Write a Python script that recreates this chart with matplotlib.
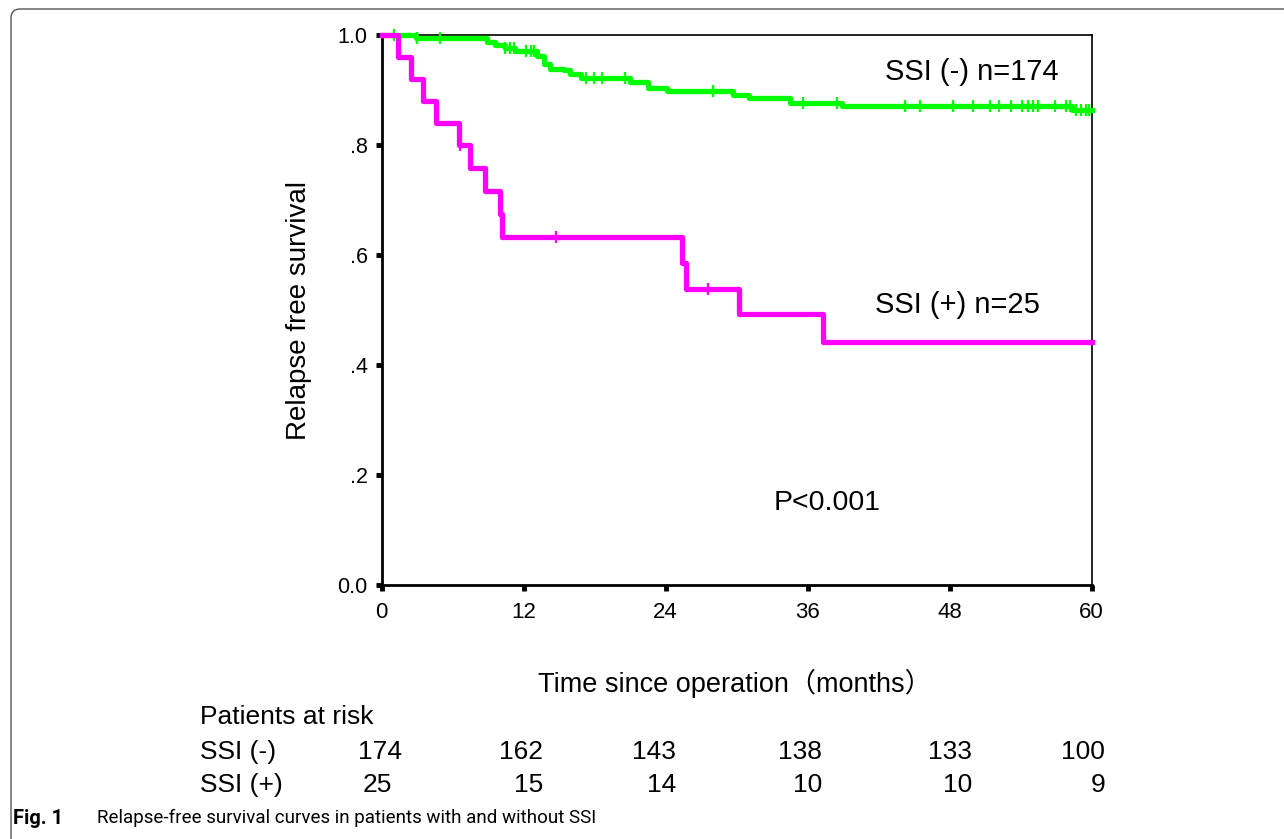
import numpy as np
import matplotlib
matplotlib.use("Agg")
import matplotlib.pyplot as plt
from matplotlib.patches import FancyBboxPatch
from matplotlib.transforms import IdentityTransform

# ---- data ----
# SSI (-) group, Kaplan-Meier steps (months, survival)
t_neg = [0, 2.9, 8.9, 9.6, 10.4, 11.3, 13.1, 13.7, 14.2, 15.4, 15.9, 16.8,
         21.0, 22.5, 24.1, 29.7, 31.0, 34.5, 38.9, 58.3, 60]
s_neg = [1.0, 0.994, 0.988, 0.982, 0.976, 0.971, 0.961, 0.948, 0.939, 0.936,
         0.930, 0.921, 0.915, 0.903, 0.898, 0.891, 0.885, 0.877, 0.871, 0.864, 0.864]
cens_neg = [1.0, 3.0, 4.9, 10.4, 10.8, 11.2, 12.2, 12.6, 12.9, 17.3, 17.9, 18.6,
            20.6, 28.0, 35.6, 38.5, 44.2, 45.5, 48.3, 50.0, 51.4, 52.2, 53.2,
            54.1, 54.6, 55.0, 55.5, 56.9, 57.8, 58.2, 58.7, 59.1, 59.5, 59.8]

# SSI (+) group
t_pos = [0, 1.4, 2.5, 3.5, 4.6, 6.5, 7.5, 8.7, 10.0, 10.2, 25.4, 25.7, 30.2, 37.3, 60]
s_pos = [1.0, 0.96, 0.92, 0.88, 0.84, 0.80, 0.758, 0.716, 0.674, 0.632,
         0.585, 0.539, 0.493, 0.441, 0.441]
cens_pos = [6.6, 14.7, 27.6]

x_ticks = [0, 12, 24, 36, 48, 60]
y_ticks = [0.0, 0.2, 0.4, 0.6, 0.8, 1.0]
y_ticklabels = ["0.0", ".2", ".4", ".6", ".8", "1.0"]

risk_groups = ["SSI (-)", "SSI (+)"]
risk_neg = [174, 162, 143, 138, 133, 100]
risk_pos = [25, 15, 14, 10, 10, 9]

GREEN = "#00FF00"
MAGENTA = "#FF00FF"
FONT = ["Liberation Sans", "DejaVu Sans"]

W, H = 1284, 839
fig = plt.figure(figsize=(W / 100, H / 100), dpi=100)
fig.patch.set_facecolor("white")

# outer rounded frame
frame = FancyBboxPatch((11, -60), 1500, 830 + 60, boxstyle="round,pad=0,rounding_size=9",
                       transform=IdentityTransform(), fill=False, edgecolor="#555555",
                       linewidth=1.0)
fig.patches.append(frame)

ax = fig.add_axes([381.7 / W, 1 - 585 / H, (1091.7 - 381.7) / W, (585 - 35) / H])
ax.set_xlim(0, 60)
ax.set_ylim(0, 1)


def step_value(tt, ss, x):
    idx = np.searchsorted(np.asarray(tt), x, side="right") - 1
    return np.asarray(ss)[idx]


ax.step(t_neg, s_neg, where="post", color=GREEN, lw=3.8, clip_on=False, zorder=3)
ax.plot(cens_neg, step_value(t_neg, s_neg, np.array(cens_neg)), ls="none", marker="|",
        ms=9, mew=1.6, color=GREEN, clip_on=False, zorder=3)
ax.step(t_pos, s_pos, where="post", color=MAGENTA, lw=3.8, clip_on=False, zorder=3)
ax.plot(cens_pos, step_value(t_pos, s_pos, np.array(cens_pos)), ls="none", marker="|",
        ms=9, mew=1.6, color=MAGENTA, clip_on=False, zorder=3)

for side in ["left", "bottom"]:
    ax.spines[side].set_linewidth(2.0)
for side in ["top", "right"]:
    ax.spines[side].set_linewidth(1.2)
for sp in ax.spines.values():
    sp.set_color("black")

ax.set_xticks(x_ticks)
ax.set_xticklabels([str(v) for v in x_ticks], fontsize=16, family=FONT)
ax.set_yticks(y_ticks)
ax.set_yticklabels(y_ticklabels, fontsize=15.5, family=FONT)
ax.tick_params(axis="y", direction="out", length=4, width=3.5, pad=6)
ax.tick_params(axis="x", direction="out", length=4, width=3.5, pad=8)

ax.text((299 - 381.7) / 710, 0.5, "Relapse free survival", transform=ax.transAxes,
        rotation=90, ha="center", va="center", fontsize=20, family=FONT)
fig.text((548 + 922) / 2 / W, 1 - 683 / H, "Time since operation（months）",
         ha="center", va="center", fontsize=19.5, family=["Liberation Sans", "Noto Sans CJK JP"])

ax.text(42.5, 0.933, "SSI (-) n=174", fontsize=21, family=FONT, va="center", ha="left")
ax.text(41.7, 0.509, "SSI (+) n=25", fontsize=21, family=FONT, va="center", ha="left")
ax.text(33.1, 0.149, "P<0.001", fontsize=20.5, family=FONT, va="center", ha="left")

# patients at risk table
fig.text(200 / W, 1 - 717 / H, "Patients at risk", fontsize=19, family=FONT, va="center")
row_y = [752, 785]
col_x = [402, 543, 676, 822, 972, 1105]
for gi, (name, vals) in enumerate(zip(risk_groups, [risk_neg, risk_pos])):
    fig.text(200 / W, 1 - row_y[gi] / H, name, fontsize=19, family=FONT, va="center")
    for ci, v in enumerate(vals):
        xr = col_x[ci] - (10 if (gi == 1 and ci == 0) else 0)
        fig.text(xr / W, 1 - row_y[gi] / H, str(v), fontsize=19, family=FONT,
                 va="center", ha="right")

# caption
fig.text(13 / W, 1 - 818 / H, "Fig. 1", fontsize=14.5, fontweight="bold",
         family=["Roboto", "DejaVu Sans"], va="center")
fig.text(97 / W, 1 - 818 / H, "Relapse-free survival curves in patients with and without SSI",
         fontsize=13.5, family=["Roboto", "DejaVu Sans"], va="center")

fig.savefig("out.png", dpi=100, facecolor="white")
